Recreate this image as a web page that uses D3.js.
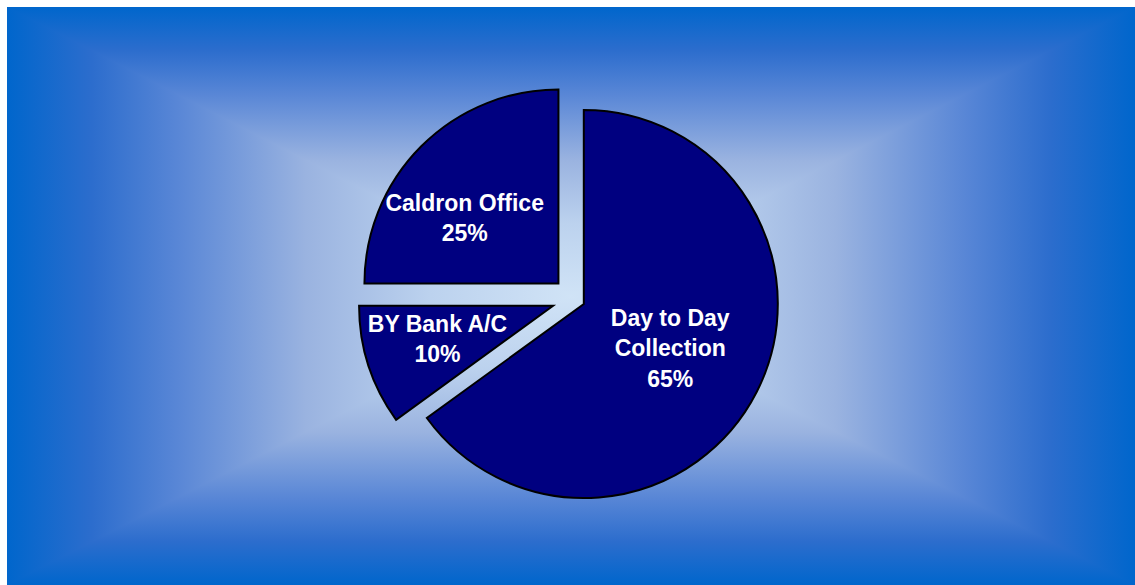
<!DOCTYPE html>
<html>
<head>
<meta charset="utf-8">
<script src="https://cdn.jsdelivr.net/npm/d3@7"></script>
<style>
  html, body { margin: 0; padding: 0; background: #ffffff; }
  svg { display: block; }
</style>
</head>
<body>
<svg id="chart" width="1135" height="585"></svg>
<script>
// Share of funds by place of holding
const categories = ["Day to Day Collection", "BY Bank A/C", "Caldron Office"];
const categoryLines = [["Day to Day", "Collection"], ["BY Bank A/C"], ["Caldron Office"]];
const values = [65, 10, 25];

// Layout and style
const panel = { x0: 7, y0: 7, x1: 1135, y1: 585 };
const pieCenter = { x: 574, y: 299 };
const radius = 194;
const explode = [11, 22, 22];              // px each slice is pulled out
const labelPlace = [                        // label radius (fraction of r) and angle nudge (deg)
  { r: 0.50, turn: 0 },
  { r: 0.62, turn: 2 },
  { r: 0.59, turn: -10 }
];
const sliceFill = "#000080";
const gradStops = [
  [0.00, "#0066cc"],
  [0.15, "#2c6dcd"],
  [0.30, "#5886d6"],
  [0.53, "#9ab3e0"],
  [0.75, "#bcd2ee"],
  [1.00, "#d0e3f6"]
];

const svg = d3.select("#chart");
const defs = svg.append("defs");

// Rectangular "from centre" background: a full panel with a mirrored
// horizontal gradient, overlaid by top and bottom triangles that carry
// vertical gradients from their edge to the centre.
const cx = (panel.x0 + panel.x1) / 2, cy = (panel.y0 + panel.y1) / 2;

const hGrad = defs.append("linearGradient")
  .attr("id", "gHoriz")
  .attr("gradientUnits", "userSpaceOnUse")
  .attr("x1", panel.x0).attr("y1", cy)
  .attr("x2", panel.x1).attr("y2", cy);
gradStops.forEach(([o, c]) => hGrad.append("stop").attr("offset", o / 2).attr("stop-color", c));
gradStops.slice().reverse().forEach(([o, c]) => hGrad.append("stop").attr("offset", 1 - o / 2).attr("stop-color", c));

const tris = [
  { id: "gTop",    pts: [[panel.x0, panel.y0], [panel.x1, panel.y0], [cx, cy]], from: [cx, panel.y0] },
  { id: "gBottom", pts: [[panel.x0, panel.y1], [panel.x1, panel.y1], [cx, cy]], from: [cx, panel.y1] }
];
tris.forEach(s => {
  const g = defs.append("linearGradient")
    .attr("id", s.id)
    .attr("gradientUnits", "userSpaceOnUse")
    .attr("x1", s.from[0]).attr("y1", s.from[1])
    .attr("x2", cx).attr("y2", cy);
  gradStops.forEach(([o, c]) => g.append("stop").attr("offset", o).attr("stop-color", c));
});

const bg = svg.append("g");
bg.append("rect")
  .attr("x", panel.x0).attr("y", panel.y0)
  .attr("width", panel.x1 - panel.x0).attr("height", panel.y1 - panel.y0)
  .attr("fill", "url(#gHoriz)");
tris.forEach(s => {
  bg.append("path")
    .attr("d", "M" + s.pts.map(p => p.join(",")).join("L") + "Z")
    .attr("fill", `url(#${s.id})`);
});

// Pie
const pie = d3.pie().sort(null).startAngle(0).endAngle(2 * Math.PI);
const arcs = pie(values);
const arc = d3.arc().innerRadius(0).outerRadius(radius);

const g = svg.append("g").attr("transform", `translate(${pieCenter.x},${pieCenter.y})`);

const slices = g.selectAll("g.slice")
  .data(arcs)
  .join("g")
  .attr("class", "slice")
  .attr("transform", (d, i) => {
    const mid = (d.startAngle + d.endAngle) / 2;
    return `translate(${explode[i] * Math.sin(mid)},${-explode[i] * Math.cos(mid)})`;
  });

slices.append("path")
  .attr("d", arc)
  .attr("fill", sliceFill)
  .attr("stroke", "#000000")
  .attr("stroke-width", 2)
  .attr("stroke-linejoin", "miter");

// Labels: category lines plus percentage
const lineGap = 30.5;
const fontSize = 23;
const total = d3.sum(values);
slices.each(function (d, i) {
  const mid = (d.startAngle + d.endAngle) / 2 + labelPlace[i].turn * Math.PI / 180;
  const rr = labelPlace[i].r * radius;
  const lx = rr * Math.sin(mid), ly = -rr * Math.cos(mid);
  const lines = categoryLines[i].concat([Math.round(d.data / total * 100) + "%"]);
  const t = d3.select(this).append("text")
    .attr("text-anchor", "middle")
    .attr("font-family", "'Liberation Sans', Arial, sans-serif")
    .attr("font-weight", "bold")
    .attr("font-size", fontSize)
    .attr("fill", "#ffffff");
  lines.forEach((ln, k) => {
    t.append("tspan")
      .attr("x", lx)
      .attr("y", ly + (k - (lines.length - 1) / 2) * lineGap + fontSize * 0.35)
      .text(ln);
  });
});
</script>
</body>
</html>
